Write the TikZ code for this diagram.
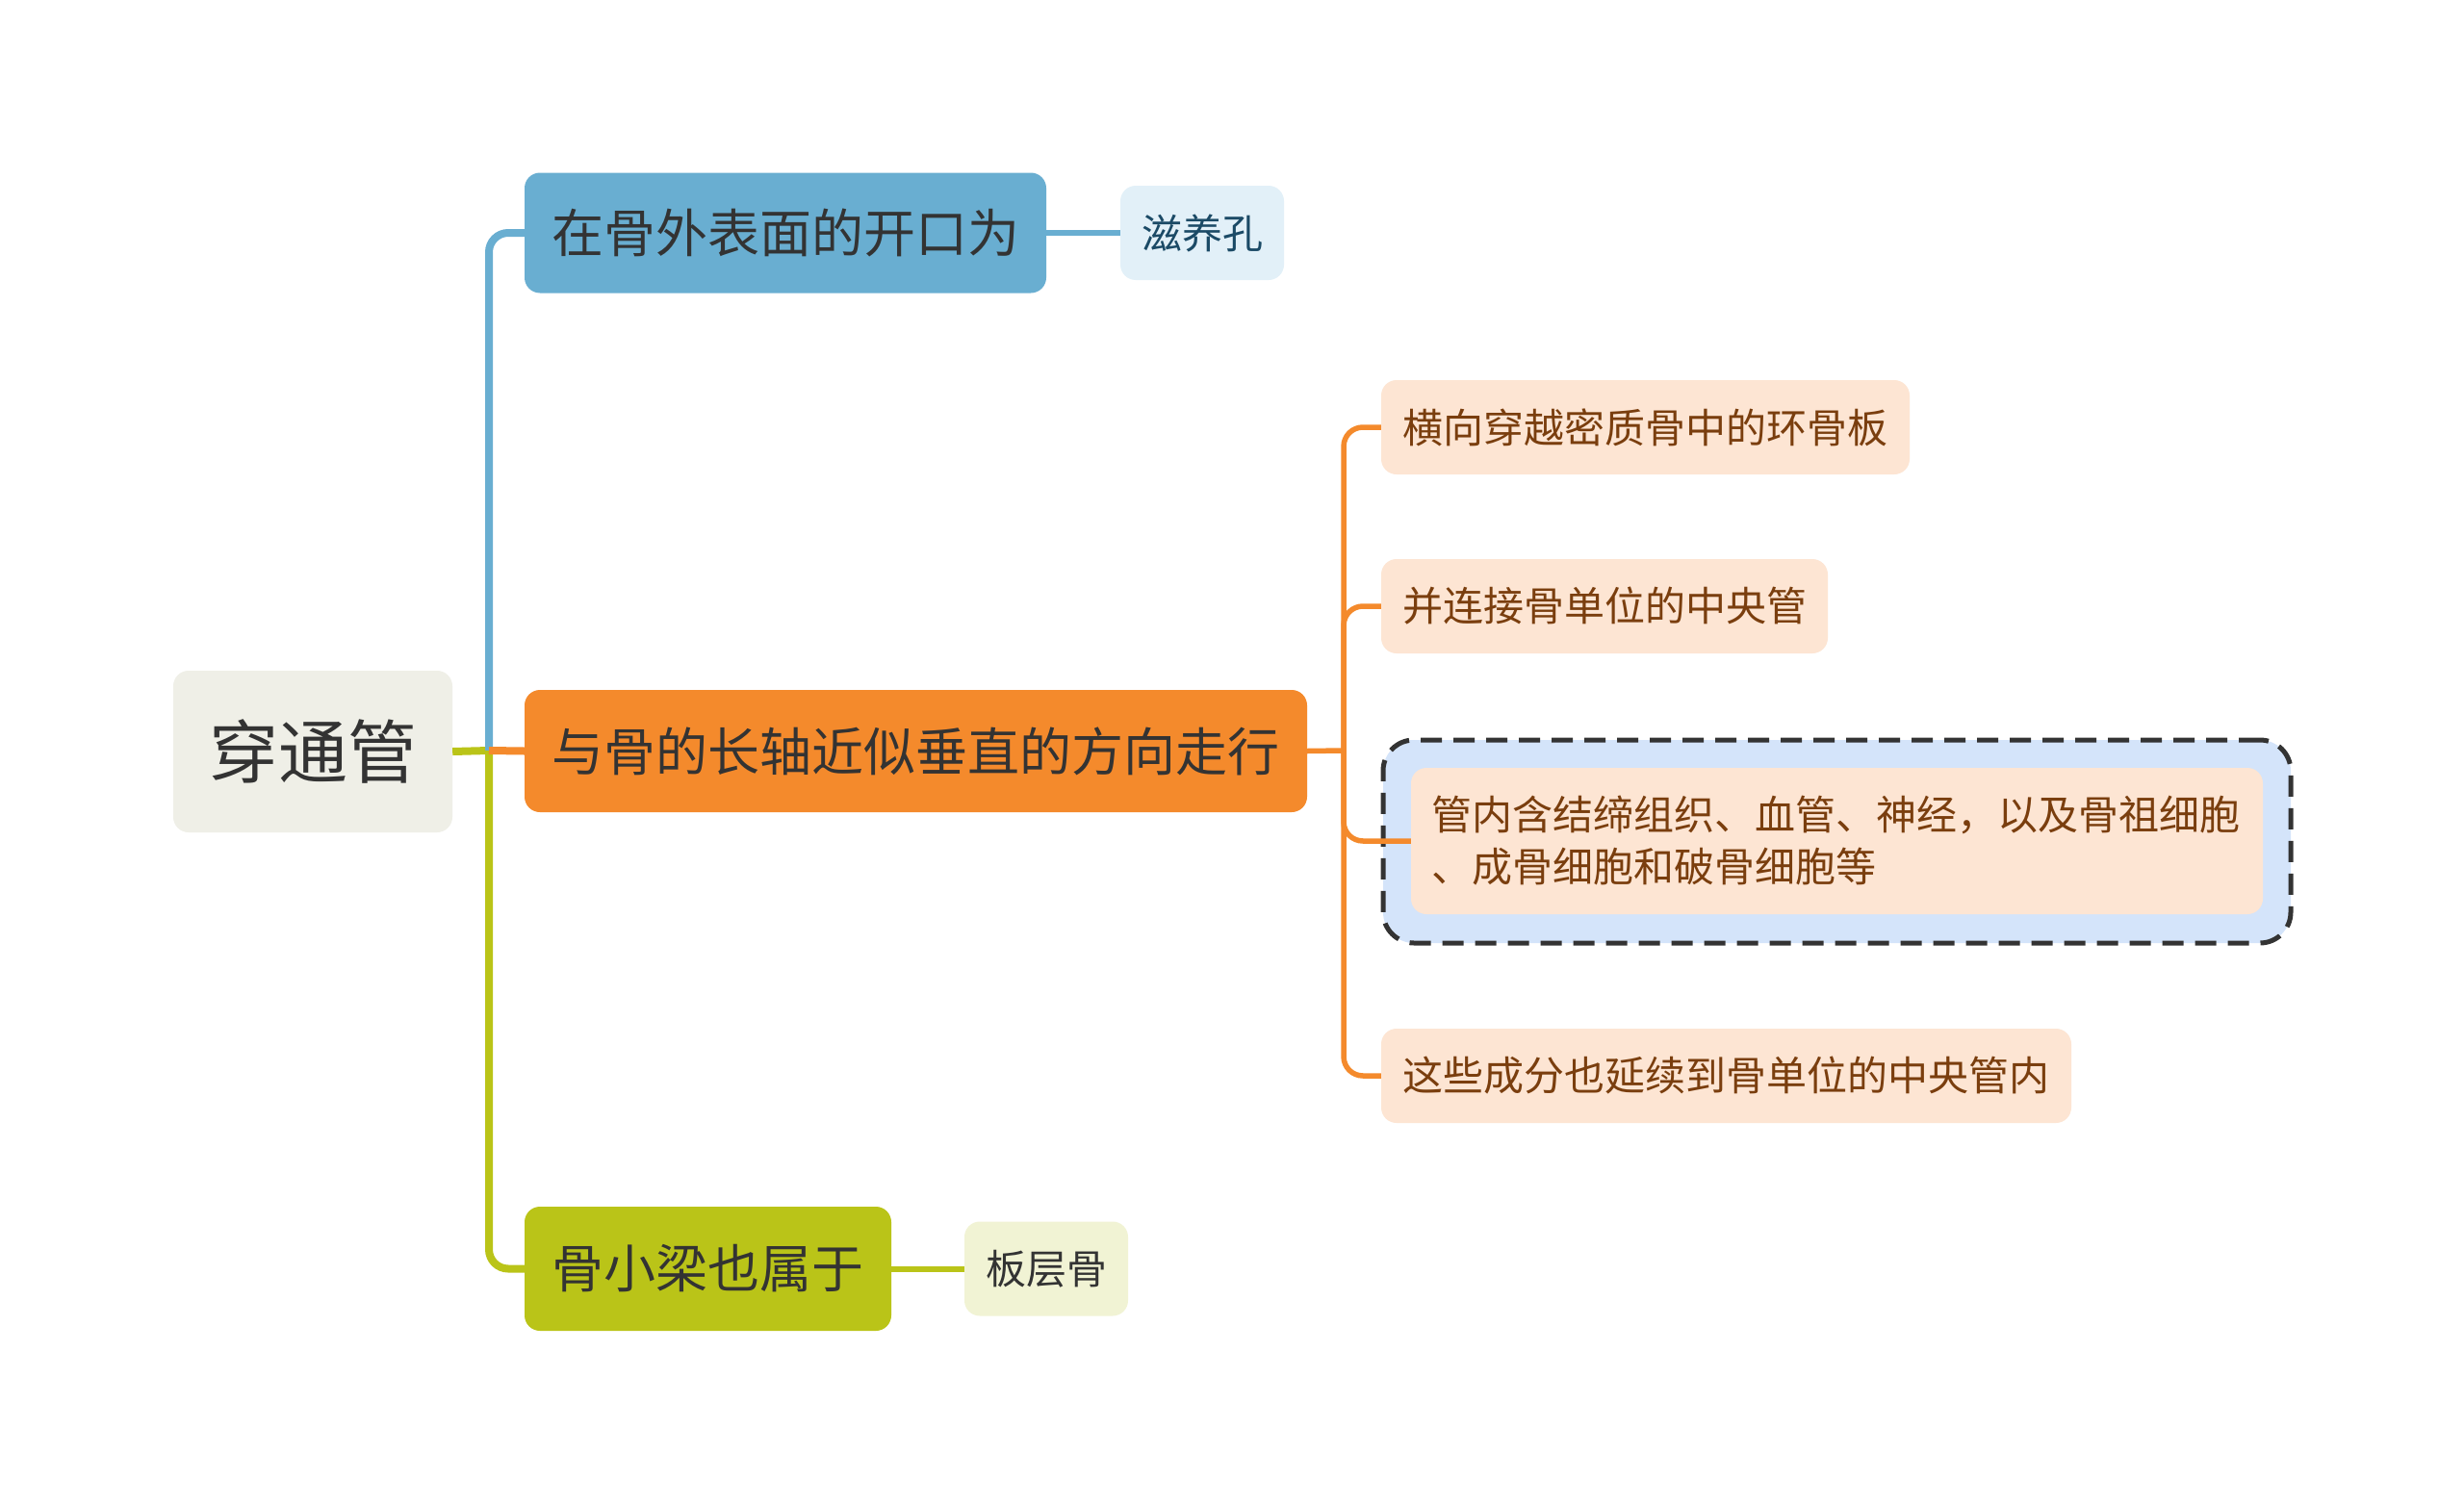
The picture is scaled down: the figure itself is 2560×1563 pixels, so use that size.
\documentclass[tikz,border=0pt]{standalone}
\usepackage{fontspec}
\setmainfont{Noto Sans CJK SC}
\begin{document}
\begin{tikzpicture}[x=1pt,y=-1pt,
  box/.style={rounded corners=16pt, inner sep=0pt, align=center},
  rootbox/.style={box, fill=rootfill, text=textdark, font=\fontsize{72}{86}\selectfont},
  mainbox/.style={box, font=\fontsize{54}{64}\selectfont, text=textdark},
  subbox/.style={box, font=\fontsize{42}{54}\selectfont},
  trunk/.style={line width=8pt, rounded corners=20pt},
  twig/.style={line width=5.5pt, rounded corners=20pt}]
\definecolor{rootfill}{HTML}{EFEFE7}
\definecolor{textdark}{HTML}{333333}
\definecolor{blue1}{HTML}{69AED1}
\definecolor{blue2}{HTML}{E2F0F8}
\definecolor{bluetext}{HTML}{1B4A66}
\definecolor{orange1}{HTML}{F48A2C}
\definecolor{orange2}{HTML}{FDE5D3}
\definecolor{orangetext}{HTML}{7A3E0E}
\definecolor{green1}{HTML}{BAC418}
\definecolor{green2}{HTML}{F1F3D4}
\definecolor{dashfill}{HTML}{D4E4FA}
\useasboundingbox[fill=white] (0,0) rectangle (2560,1563);

% nodes
\node[rootbox, minimum width=290pt, minimum height=168pt] (root) at (325,781) {穿通管};
\node[mainbox, fill=blue1, minimum width=542pt, minimum height=125pt] (blue) at (816,242) {在骨外表面的开口为};
\node[mainbox, fill=orange1, minimum width=813pt, minimum height=127pt] (orange) at (951.5,780.5) {与骨的长轴近似垂直的方向走行};
\node[mainbox, fill=green1, minimum width=381pt, minimum height=129pt] (green) at (735.5,1318.5) {骨小梁也属于};
\node[subbox, fill=blue2, text=bluetext, minimum width=170pt, minimum height=98pt] (zy) at (1249,242) {滋养孔};
\node[subbox, fill=green2, text=textdark, minimum width=170pt, minimum height=98pt] (bc) at (1087,1318.5) {板层骨};
\node[subbox, fill=orange2, text=orangetext, minimum width=549pt, minimum height=98pt] (c1) at (1709.5,444) {横向穿越密质骨中的环骨板};
\node[subbox, fill=orange2, text=orangetext, minimum width=464pt, minimum height=98pt] (c2) at (1667,630) {并连接骨单位的中央管};
\node[subbox, fill=orange2, text=orangetext, minimum width=717pt, minimum height=98pt] (c4) at (1793.5,1118) {这些成分也延续到骨单位的中央管内};
\node[draw=textdark, dashed, dash pattern=on 22pt off 12pt, line width=5pt, fill=dashfill, rounded corners=32pt,
      minimum width=943pt, minimum height=211pt, inner sep=0pt] (dash) at (1908.5,874.5) {};

% connectors
\coordinate (j) at (508,780);
\coordinate (k) at (1396,780);
\draw[trunk, green1] (root.east) -- (j);
\draw[trunk, blue1] (j) |- (blue.west);
\draw[trunk, green1] (j) |- (green.west);
\draw[trunk, orange1] (j) -- (orange.west);
\draw[line width=6pt, blue1] (blue.east) -- (zy.west);
\draw[line width=6pt, green1] (green.east) -- (bc.west);
\draw[twig, orange1] (orange.east) -- (k);
\draw[twig, orange1] (k) |- (c1.west);
\draw[twig, orange1] (k) |- (c2.west);
\draw[twig, orange1] (k) |- (c4.west);
\draw[twig, orange1] (k) |- (1466,874);

\node[subbox, fill=orange2, text=orangetext, minimum width=885pt, minimum height=152pt, text width=843pt, align=left] (c3) at (1908.5,874) {管内含结缔组织、血管、神经，以及骨祖细胞\\、成骨细胞和破骨细胞等};
\end{tikzpicture}
\end{document}
